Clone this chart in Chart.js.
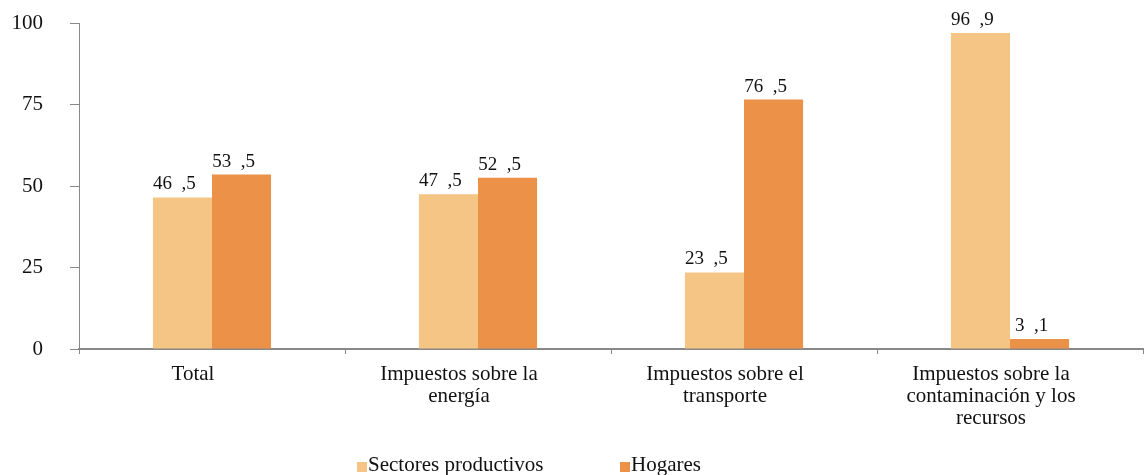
<!DOCTYPE html>
<html>
<head>
<meta charset="utf-8">
<script src="https://cdn.jsdelivr.net/npm/chart.js@4/dist/chart.umd.min.js"></script>
<style>
  html, body { margin: 0; padding: 0; background: #fff; }
  #wrap { width: 1144px; height: 475px; position: relative; }
</style>
</head>
<body>
<div id="wrap"><canvas id="chart"></canvas></div>
<script>
const categories = [
  ["Total"],
  ["Impuestos sobre la", "energía"],
  ["Impuestos sobre el", "transporte"],
  ["Impuestos sobre la", "contaminación y los", "recursos"]
];
const seriesNames = ["Sectores productivos", "Hogares"];
const sectores = [46.5, 47.5, 23.5, 96.9];
const hogares = [53.5, 52.5, 76.5, 3.1];
const yTicks = [0, 25, 50, 75, 100];

const serif = "'Liberation Serif', 'Times New Roman', serif";

// valores encima de cada barra, con el formato del original "46 ,5"
const valueLabels = {
  id: "valueLabels",
  afterDatasetsDraw(chart) {
    const ctx = chart.ctx;
    ctx.save();
    ctx.font = "19px " + serif;
    ctx.fillStyle = "#111";
    ctx.textAlign = "center";
    ctx.textBaseline = "alphabetic";
    chart.data.datasets.forEach(function (ds, i) {
      chart.getDatasetMeta(i).data.forEach(function (bar, j) {
        const txt = ds.data[j].toFixed(1).replace(".", "  ,");
        ctx.fillText(txt, bar.x - 8, bar.y - 8);
      });
    });
    ctx.restore();
  }
};

// leyenda abajo, como en el original (cuadro pegado al texto)
const bottomLegend = {
  id: "bottomLegend",
  afterDraw(chart) {
    const ctx = chart.ctx;
    const starts = [357, 620];
    ctx.save();
    ctx.font = "21px " + serif;
    ctx.textBaseline = "middle";
    chart.data.datasets.forEach(function (ds, i) {
      ctx.fillStyle = ds.backgroundColor;
      ctx.fillRect(starts[i], 462, 10, 10);
      ctx.fillStyle = "#111";
      ctx.fillText(ds.label, starts[i] + 11, 465);
    });
    ctx.restore();
  }
};

new Chart(document.getElementById("chart").getContext("2d"), {
  type: "bar",
  data: {
    labels: categories,
    datasets: [
      { label: seriesNames[0], data: sectores, backgroundColor: "#F4C584" },
      { label: seriesNames[1], data: hogares, backgroundColor: "#EC9248" }
    ]
  },
  options: {
    responsive: true,
    maintainAspectRatio: false,
    animation: false,
    layout: { padding: { top: 23, right: 1, left: 0, bottom: 0 } },
    datasets: {
      bar: { categoryPercentage: 0.444, barPercentage: 1.0 }
    },
    plugins: {
      tooltip: { enabled: false },
      legend: { display: false }
    },
    scales: {
      x: {
        grid: {
          display: true,
          drawOnChartArea: false,
          offset: true,
          tickLength: 5,
          color: "#888"
        },
        border: { color: "#888", width: 2 },
        ticks: {
          font: { family: serif, size: 21, lineHeight: 1.03 },
          color: "#111",
          maxRotation: 0,
          padding: 10,
          labelOffset: -19
        },
        afterFit(scale) { scale.height = 126; }
      },
      y: {
        min: 0,
        max: 100,
        afterBuildTicks(scale) {
          scale.ticks = yTicks.map(function (v) { return { value: v }; });
        },
        grid: {
          drawOnChartArea: false,
          tickLength: 9,
          color: "#888"
        },
        border: { color: "#888", width: 1 },
        ticks: {
          font: { family: serif, size: 21 },
          color: "#111",
          padding: 27
        },
        afterFit(scale) {
          scale.width = 79;
          // la separación de las etiquetas no debe empujar el área del gráfico
          scale.paddingTop = 0;
          scale.paddingBottom = 0;
        }
      }
    }
  },
  plugins: [valueLabels, bottomLegend]
});
</script>
</body>
</html>
